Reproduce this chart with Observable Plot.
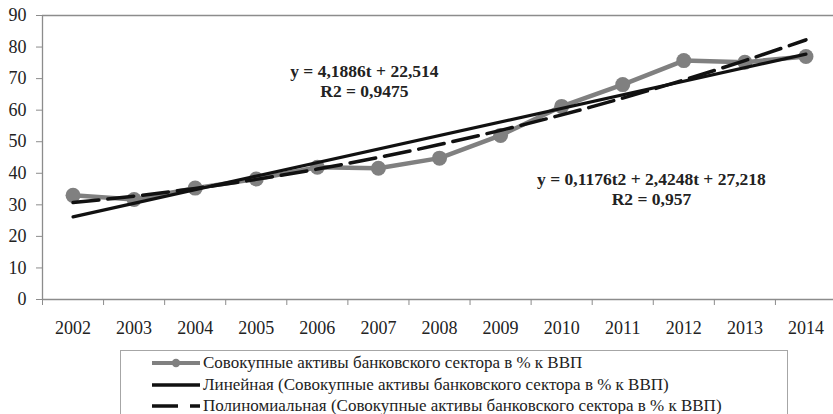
<!DOCTYPE html>
<html>
<head>
<meta charset="utf-8">
<script src="https://cdn.jsdelivr.net/npm/d3@7"></script>
<script src="https://cdn.jsdelivr.net/npm/@observablehq/plot@0.6"></script>
<style>
  html, body { margin: 0; padding: 0; background: #fff; }
  #wrap { position: relative; width: 833px; height: 414px; overflow: hidden; }
  #legend { position: absolute; left: 120px; top: 350px; width: 668px; height: 90px; border: 1px solid #a6a6a6; box-sizing: border-box; }
  .row { position: absolute; left: 31px; height: 21px; display: flex; align-items: center; font-size: 17px; color: #222; white-space: nowrap; }
  .row svg { margin-right: 3px; }
  svg text { font-family: 'Liberation Serif', serif; }
</style>
</head>
<body>
<div id="wrap">
  <div id="chart"></div>
  <div id="legend"></div>
</div>
<script>
const years = [2002, 2003, 2004, 2005, 2006, 2007, 2008, 2009, 2010, 2011, 2012, 2013, 2014];
const values = [33.0, 31.7, 35.3, 38.2, 41.9, 41.6, 44.8, 52.0, 61.2, 68.1, 75.7, 75.2, 77.0];
const yTicks = [0, 10, 20, 30, 40, 50, 60, 70, 80, 90];
const eqLinear = ["y = 4,1886t + 22,514", "R2 = 0,9475"];
const eqPoly = ["y = 0,1176t2 + 2,4248t + 27,218", "R2 = 0,957"];
const legendLabels = [
  "Совокупные активы банковского сектора в % к ВВП",
  "Линейная (Совокупные активы банковского сектора в % к ВВП)",
  "Полиномиальная (Совокупные активы банковского сектора в % к ВВП)"
];

const FONT = "'Liberation Serif', serif";
const data = years.map((year, i) => ({year, value: values[i], t: i + 1}));

// least-squares quadratic fit on t = 1..n (Excel polynomial trendline, order 2)
function quadFit(pts) {
  let s = [0,0,0,0,0], sy = [0,0,0];
  for (const p of pts) {
    const x = p.t, y = p.value;
    for (let k = 0; k < 5; k++) s[k] += Math.pow(x, k);
    for (let k = 0; k < 3; k++) sy[k] += Math.pow(x, k) * y;
  }
  const A = [[s[0], s[1], s[2]], [s[1], s[2], s[3]], [s[2], s[3], s[4]]];
  const b = sy.slice();
  for (let i = 0; i < 3; i++) {
    for (let j = i + 1; j < 3; j++) {
      const f = A[j][i] / A[i][i];
      for (let k = i; k < 3; k++) A[j][k] -= f * A[i][k];
      b[j] -= f * b[i];
    }
  }
  const c = [0,0,0];
  for (let i = 2; i >= 0; i--) {
    let sum = b[i];
    for (let k = i + 1; k < 3; k++) sum -= A[i][k] * c[k];
    c[i] = sum / A[i][i];
  }
  return c;
}
const qc = quadFit(data);
const polyData = data.map(d => ({year: d.year, value: qc[0] + qc[1] * d.t + qc[2] * d.t * d.t}));

const boundaries = years.map(y => y - 0.5).concat([years[years.length - 1] + 0.5]);
const xMin = years[0] - 0.5, xMax = years[years.length - 1] + 0.5;
const axisGray = "#8c8c8c";

const chart = Plot.plot({
  width: 833,
  height: 345,
  marginLeft: 42,
  marginRight: 0,
  marginTop: 15,
  marginBottom: 46,
  style: {fontFamily: FONT, background: "#fff", color: "#222", overflow: "visible"},
  x: {domain: [xMin, xMax], range: [42, 836]},
  y: {domain: [0, 90]},
  marks: [
    Plot.ruleY([90], {stroke: axisGray, strokeWidth: 1.3}),
    Plot.ruleY([0], {stroke: axisGray, strokeWidth: 1.3}),
    Plot.ruleX([xMin], {stroke: axisGray, strokeWidth: 1.3}),
    Plot.axisY({ticks: yTicks, tickSize: 6, tickPadding: 10, fontSize: 18, fontFamily: FONT, stroke: axisGray, label: null, tickFormat: d => String(d)}),
    Plot.axisX({ticks: boundaries, tickSize: 6, stroke: axisGray, tickFormat: () => "", label: null}),
    Plot.axisX({ticks: years, tickSize: 0, tickPadding: 22, fontSize: 18, fontFamily: FONT, label: null, tickFormat: d => String(d)}),
    Plot.line(data, {x: "year", y: "value", stroke: "#808080", strokeWidth: 4.5}),
    Plot.dot(data, {x: "year", y: "value", r: 7.5, fill: "#808080", stroke: "none"}),
    Plot.linearRegressionY(data, {x: "year", y: "value", stroke: "#111", strokeWidth: 3.2, ci: 0}),
    Plot.line(polyData, {x: "year", y: "value", stroke: "#111", strokeWidth: 3.5, strokeDasharray: "26,9", curve: "natural"}),
    Plot.text([eqLinear[0]], {x: 2006.77, y: 72.4, text: d => d, fontSize: 17.5, fontFamily: FONT, fontWeight: "bold", fill: "#222"}),
    Plot.text([eqLinear[1]], {x: 2006.77, y: 66.1, text: d => d, fontSize: 17.5, fontFamily: FONT, fontWeight: "bold", fill: "#222"}),
    Plot.text([eqPoly[0]], {x: 2011.47, y: 38.0, text: d => d, fontSize: 17.5, fontFamily: FONT, fontWeight: "bold", fill: "#222"}),
    Plot.text([eqPoly[1]], {x: 2011.47, y: 31.7, text: d => d, fontSize: 17.5, fontFamily: FONT, fontWeight: "bold", fill: "#222"})
  ]
});
document.getElementById("chart").appendChild(chart);

// legend
const swatches = [
  `<svg width="48" height="12"><line x1="0" y1="6" x2="48" y2="6" stroke="#808080" stroke-width="4"/><circle cx="24" cy="6" r="4.2" fill="#808080"/></svg>`,
  `<svg width="48" height="12"><line x1="0" y1="6" x2="48" y2="6" stroke="#111" stroke-width="3.5"/></svg>`,
  `<svg width="48" height="12"><line x1="0" y1="6" x2="48" y2="6" stroke="#111" stroke-width="3.5" stroke-dasharray="26,12"/></svg>`
];
const legend = document.getElementById("legend");
const rowTops = [1, 23, 44];
legendLabels.forEach((label, i) => {
  const row = document.createElement("div");
  row.className = "row";
  row.style.top = rowTops[i] + "px";
  row.style.fontFamily = FONT;
  row.innerHTML = swatches[i] + `<span style="font-family:${FONT}">${label}</span>`;
  legend.appendChild(row);
});
</script>
</body>
</html>
